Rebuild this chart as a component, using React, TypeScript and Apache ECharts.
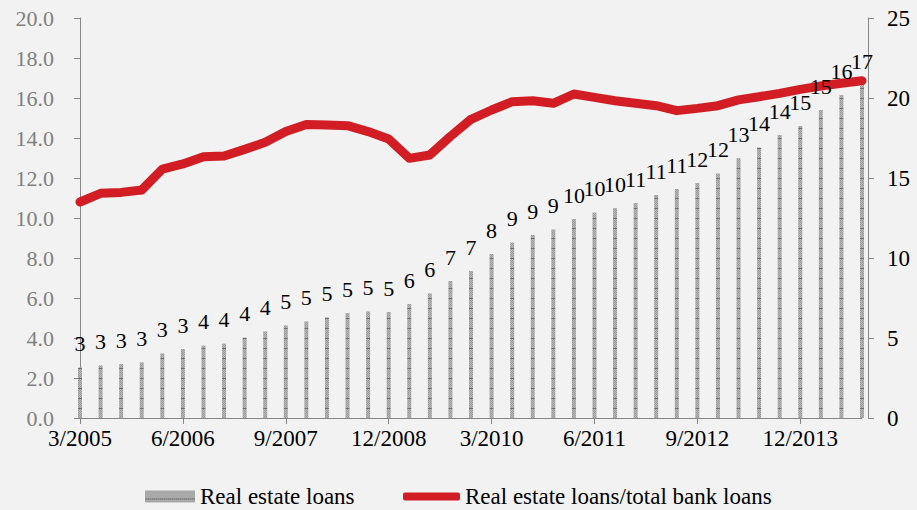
import React, { useEffect, useRef } from "react";
import * as echarts from "echarts";

const categories: string[] = [];
const monthsQ = ["3", "6", "9", "12"];
for (let y = 2005; y <= 2014; y++) {
  for (const m of monthsQ) {
    if (categories.length < 39) categories.push(`${m}/${y}`);
  }
}

// Real estate loans (left axis)
const realEstateLoans = [
  2.52, 2.63, 2.7, 2.78, 3.23, 3.45, 3.62, 3.72, 4.02, 4.33,
  4.63, 4.83, 5.03, 5.25, 5.33, 5.3, 5.7, 6.23, 6.85, 7.35,
  8.2, 8.78, 9.15, 9.43, 9.95, 10.27, 10.48, 10.75, 11.15, 11.45,
  11.75, 12.23, 12.98, 13.53, 14.15, 14.6, 15.4, 16.15, 16.65,
];

// Real estate loans / total bank loans (right axis)
const loanShare = [
  13.5, 14.04, 14.1, 14.25, 15.56, 15.88, 16.33, 16.38, 16.79, 17.23,
  17.9, 18.35, 18.31, 18.27, 17.9, 17.44, 16.23, 16.44, 17.6, 18.67,
  19.25, 19.77, 19.83, 19.67, 20.25, 20.04, 19.83, 19.67, 19.52, 19.21,
  19.35, 19.52, 19.88, 20.08, 20.29, 20.54, 20.75, 20.92, 21.08,
];

const leftTicks = { min: 0, max: 20, interval: 2 };
const rightTicks = { min: 0, max: 25, interval: 5 };

const FONT = "'Liberation Serif', serif";

function makePattern() {
  const c = document.createElement("canvas");
  c.width = 4;
  c.height = 10;
  const ctx = c.getContext("2d")!;
  for (let y = 0; y < 10; y++) {
    for (let x = 0; x < 4; x++) {
      ctx.fillStyle = (x + y) % 2 ? "#b8b8b8" : "#9a9a9a";
      ctx.fillRect(x, y, 1, 1);
    }
  }
  ctx.fillStyle = "#6f6f6f";
  ctx.fillRect(0, 8, 4, 1);
  return c;
}

export default function App() {
  const ref = useRef<HTMLDivElement>(null);
  useEffect(() => {
    if (!ref.current) return;
    const chart = echarts.init(ref.current, null, { renderer: "svg" });
    const pattern: any = { image: makePattern(), repeat: "repeat", imageWidth: 4, imageHeight: 10 };
    chart.setOption({
      animation: false,
      backgroundColor: "#f2f2f2",
      textStyle: { fontFamily: FONT },
      grid: { left: 80, right: 55, top: 18, bottom: 92 },
      legend: [
        {
          data: ["Real estate loans"],
          left: 145,
          top: 485,
          padding: 0,
          icon: "rect",
          itemWidth: 50,
          itemHeight: 12,
          itemGap: 5,
          textStyle: { fontFamily: FONT, fontSize: 23, color: "#000", padding: [0, 0, 0, 0] },
        },
        {
          data: ["Real estate loans/total bank loans"],
          left: 403,
          top: 485,
          padding: 0,
          icon: "roundRect",
          itemWidth: 57,
          itemHeight: 8,
          itemGap: 2,
          textStyle: { fontFamily: FONT, fontSize: 23, color: "#000" },
        },
      ],
      xAxis: {
        type: "category",
        data: categories,
        boundaryGap: false,
        axisLine: { lineStyle: { color: "#868686", width: 1 } },
        axisTick: { interval: 4, length: 6, lineStyle: { color: "#868686" } },
        axisLabel: { interval: 4, color: "#000", fontSize: 23, fontFamily: FONT, margin: 9 },
        splitLine: { show: false },
      },
      yAxis: [
        {
          type: "value",
          ...leftTicks,
          position: "left",
          axisLine: { show: true, lineStyle: { color: "#868686" } },
          axisTick: { show: true, length: 6, lineStyle: { color: "#868686" } },
          axisLabel: {
            color: "#808080",
            fontSize: 22,
            fontFamily: FONT,
            margin: 26,
            formatter: (v: number) => v.toFixed(1),
          },
          splitLine: { show: false },
        },
        {
          type: "value",
          ...rightTicks,
          position: "right",
          offset: 6,
          axisLine: { show: true, lineStyle: { color: "#868686" } },
          axisTick: { show: true, length: 6, lineStyle: { color: "#868686" } },
          axisLabel: { color: "#000", fontSize: 23, fontFamily: FONT, margin: 19 },
          splitLine: { show: false },
        },
      ],
      series: [
        {
          name: "Real estate loans",
          type: "bar",
          yAxisIndex: 0,
          data: realEstateLoans,
          barWidth: 4,
          itemStyle: { color: pattern },
          label: {
            show: true,
            position: "top",
            distance: 13,
            color: "#000",
            fontSize: 22,
            fontFamily: FONT,
            formatter: (p: any) => String(Math.round(p.value)),
          },
          z: 2,
        },
        {
          name: "Real estate loans/total bank loans",
          type: "line",
          yAxisIndex: 1,
          data: loanShare,
          symbol: "none",
          lineStyle: { color: "#d21d24", width: 9, cap: "round", join: "round" },
          itemStyle: { color: "#d21d24" },
          z: 1,
        },
      ],
    });
    return () => chart.dispose();
  }, []);
  return (
    <div
      ref={ref}
      style={{ position: "fixed", left: 0, top: 0, width: 917, height: 510 }}
    />
  );
}
